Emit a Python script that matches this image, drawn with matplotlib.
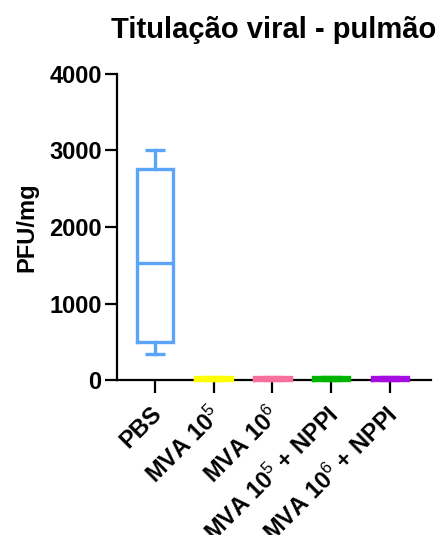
import matplotlib
matplotlib.use("Agg")
import matplotlib.pyplot as plt
from matplotlib.transforms import ScaledTranslation

plt.rcParams['font.family'] = ['Liberation Sans', 'DejaVu Sans']
plt.rcParams['mathtext.fontset'] = 'custom'
plt.rcParams['mathtext.rm'] = 'Liberation Sans'
plt.rcParams['mathtext.default'] = 'rm'

categories = ["PBS", "MVA 10$^{5}$", "MVA 10$^{6}$", "MVA 10$^{5}$ + NPPI", "MVA 10$^{6}$ + NPPI"]
whislo = [340, 0, 0, 0, 0]
q1 = [497, 0, 0, 0, 0]
med = [1525, 20, 20, 20, 20]
q3 = [2760, 40, 40, 40, 40]
whishi = [3000, 40, 40, 40, 40]
colors = ["#5AA5FA", "#FFFF00", "#F7709B", "#00B400", "#A60CE2"]
yticks = [0, 1000, 2000, 3000, 4000]

fig = plt.figure(figsize=(4.43, 5.35), dpi=100)
ax = fig.add_axes([0.264, 0.2897, 0.709, 0.572])

for i in range(len(categories)):
    st = [dict(med=med[i], q1=q1[i], q3=q3[i], whislo=whislo[i], whishi=whishi[i], fliers=[])]
    c = colors[i]
    res = ax.bxp(st, positions=[i], widths=0.62, capwidths=0.33, showfliers=False,
                 boxprops=dict(color=c, linewidth=2.4, solid_joinstyle='miter'),
                 whiskerprops=dict(color=c, linewidth=2.4),
                 capprops=dict(color=c, linewidth=2.4, solid_capstyle='butt'),
                 medianprops=dict(color=c, linewidth=2.4, solid_capstyle='butt'))
    for k in res:
        for art in res[k]:
            art.set_clip_on(False)
            art.set_zorder(3)

ax.set_xlim(-0.647, 4.70)
ax.set_ylim(0, 4000)
ax.set_yticks(yticks)
ax.set_yticklabels([str(v) for v in yticks], fontsize=17, fontweight='bold')
ax.set_xticks(range(len(categories)))
ax.set_xticklabels([])
off = ScaledTranslation(-5 / 100, -16 / 72, fig.dpi_scale_trans)
for i, lab in enumerate(categories):
    ax.text(i, 0, lab, transform=ax.get_xaxis_transform() + off,
            fontsize=17, fontweight='bold', rotation=45,
            ha='right', va='top', rotation_mode='anchor')
for s in ['top', 'right']:
    ax.spines[s].set_visible(False)
for s in ['left', 'bottom']:
    ax.spines[s].set_linewidth(1.6)
    ax.spines[s].set_zorder(1)
ax.tick_params(axis='both', length=9, width=1.6, color='black')
ax.tick_params(axis='y', pad=2)
ax.set_ylabel("PFU/mg", fontsize=17, fontweight='bold', labelpad=8)
ax.set_title("Titulação viral - pulmão", fontsize=21, fontweight='bold', pad=26, x=0.5)

fig.savefig("out.png", dpi=100)
